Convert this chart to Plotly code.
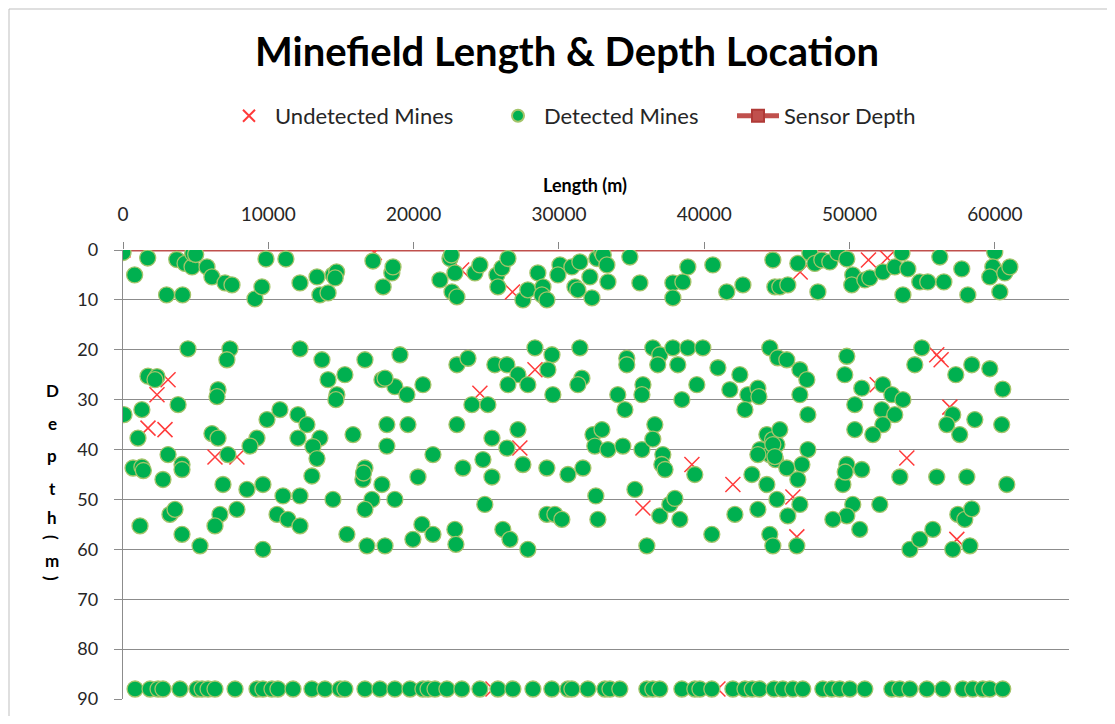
import plotly.graph_objects as go

# ---------------- data (length m, depth m) ----------------
detected_shallow = [
    (0, 0.5), (800, 5), (1700, 1.6), (3000, 9), (4100, 9), (3700, 1.9), (4270, 2.7), (4750, 3.4),
    (4800, 0.7), (5000, 0.9), (5780, 3.4), (6120, 5.4), (7020, 6.6), (7500, 7), (9080, 9.8),
    (9560, 7.4), (9840, 1.8), (11210, 1.8), (12180, 6.6), (13350, 5.4), (13550, 9), (14110, 8.6),
    (14450, 5), (14700, 4.4), (14600, 5.6), (17200, 2.2), (17900, 7.4), (18500, 4.6), (18580, 3.4),
    (22500, 1.7), (22600, 1.0), (21810, 6), (22840, 4.6), (22640, 8.4), (22980, 9.4), (24220, 4.6),
    (24560, 3), (25730, 5), (26080, 3.6), (26490, 1.7), (25800, 7.4), (27520, 10), (27860, 8),
    (28550, 4.6), (28900, 7.4), (28830, 9), (29170, 10), (30070, 3), (29930, 5), (30890, 3.4),
    (31440, 2.4), (31100, 7.4), (31300, 8), (32130, 5.4), (32270, 9.6), (32610, 1.7), (32960, 0.4),
    (33050, 1.0), (33300, 3), (33370, 6.4), (34880, 1.4), (35570, 6.6), (37840, 6.6), (38530, 6.4),
    (38870, 3.4), (37840, 9.6), (40590, 3), (41550, 8.4), (42660, 7), (44720, 2), (44860, 7.4),
    (45200, 7.4), (45750, 7), (46440, 2.7), (47270, 0.6), (47610, 2.7), (48090, 2), (48640, 2.4),
    (49190, 0.6), (49810, 1.8), (47820, 8.4), (50220, 5), (50150, 7), (51050, 6), (51390, 5.6),
    (52290, 4.4), (53110, 3.4), (53600, 0.6), (54010, 3.8), (53670, 9), (54830, 6.4), (55380, 6.4),
    (56210, 1.4), (56490, 6.4), (57720, 3.8), (58140, 9), (59990, 0.4), (59860, 3.4), (59650, 5.4),
    (60680, 4.6), (61030, 3.4), (60340, 8.4),
]

detected_mid = [
    (4470, 19.8), (7360, 19.8), (7150, 22), (12180, 19.8), (13690, 22), (14110, 26), (15270, 25),
    (14720, 29), (14650, 30), (16650, 22), (17820, 26), (18710, 27.4), (1720, 25.3), (2340, 25.4),
    (2200, 26), (70, 33), (1300, 32), (3790, 31), (1030, 37.7), (6540, 28), (6470, 29.4),
    (10800, 32), (12040, 33), (12660, 35), (9910, 34), (6120, 36.8), (6540, 37.7), (9220, 37.7),
    (8740, 39.3), (7220, 41), (12040, 37.7), (13550, 37.7), (13070, 39.4), (13350, 41.8),
    (15830, 37), (18160, 35), (18160, 39.3), (3100, 41), (4060, 43), (690, 43.7), (1300, 43.5),
    (1400, 44.2), (16650, 43.7),
    (2750, 46), (4060, 44), (6880, 47), (8530, 48), (9630, 47), (11010, 49.3), (12180, 49.3),
    (13000, 45.3), (14450, 50), (16510, 46), (16550, 44.7), (17820, 47), (17130, 50), (16650, 52),
    (18710, 50), (1170, 55.3), (3230, 53), (3580, 52), (4060, 57), (5300, 59.3), (6670, 53),
    (6330, 55.3), (7840, 52), (9630, 60), (10600, 53), (11350, 54), (12180, 55.3), (15410, 57),
    (16790, 59.3), (18030, 59.3),
    (19060, 21), (18030, 25.7), (19540, 29), (20640, 27), (22980, 23), (23740, 21.7), (25590, 23),
    (26420, 23), (27180, 25), (26490, 27), (27860, 27), (28350, 19.6), (29520, 21), (29240, 24),
    (31440, 19.6), (31580, 25.7), (31300, 27), (29580, 29), (24010, 31), (25110, 31), (19610, 35),
    (22980, 35), (21330, 41), (25390, 37.7), (27180, 36), (26420, 39.7), (24770, 42),
    (23390, 43.7), (27520, 43), (29170, 43.7), (30620, 45), (31650, 43.7), (20300, 45.5),
    (25390, 45.5),
    (34670, 21.7), (34670, 23), (36460, 19.6), (36940, 21), (36800, 23), (37840, 19.6),
    (38870, 19.6), (39900, 19.6), (38180, 23), (39490, 27), (35780, 27), (35710, 29), (34050, 29),
    (34540, 32), (38460, 30), (40940, 23.6), (42450, 25), (41760, 28), (43000, 29), (43690, 27.7),
    (43760, 29.4), (42800, 32), (44510, 19.6), (45060, 21.6), (32340, 37), (32960, 36),
    (32470, 39.3), (33370, 40), (34400, 39.3), (35710, 40), (36600, 35), (36460, 37.9), (37150, 41),
    (37080, 43), (37300, 44), (39350, 45), (43280, 45), (44310, 37), (43830, 40), (44700, 38),
    (45000, 39), (44500, 41), (44900, 42),
    (45680, 22), (46580, 24), (47060, 26), (46580, 29), (47130, 33), (49810, 21.3), (49670, 25),
    (50840, 27.7), (52290, 27), (52910, 29), (53670, 30), (50360, 31), (52220, 32), (53110, 33),
    (52290, 35), (50360, 36), (51600, 37), (54970, 19.6), (54490, 23), (57310, 25), (58410, 23),
    (59650, 23.8), (60540, 27.9), (57100, 33), (56690, 35), (57580, 37), (58620, 34), (60470, 35),
    (45200, 36), (44720, 39), (43690, 41), (44860, 41.4), (47130, 40), (46720, 43), (45680, 43.7),
    (49810, 43), (50840, 44), (53460, 45.5), (56000, 45.5), (58070, 45.5), (60820, 47),
    (44310, 47), (46440, 46), (45000, 50), (43690, 52), (45750, 53.3), (46580, 51), (44510, 57),
    (44720, 59.3), (46370, 59.3), (49540, 47), (49700, 44.5), (50220, 51), (49810, 53.3),
    (48850, 54), (50700, 56), (52080, 51), (54150, 60), (54830, 58), (55730, 56), (57450, 53),
    (57930, 54), (58410, 51.9), (57100, 60), (58280, 59.3),
    (24900, 51), (20570, 55), (19950, 58), (21330, 57), (22840, 56), (22910, 59), (26140, 56),
    (26630, 58), (27860, 60), (29170, 53), (29720, 53), (30200, 54), (32540, 49.3), (32680, 54),
    (35230, 48), (36050, 59.3), (36940, 53.3), (37630, 51), (37980, 49.8), (38320, 54),
    (40520, 57), (42110, 53),
]

detected_deep = [
    (830, 88), (1860, 88), (2410, 88), (2750, 88), (3920, 88), (5090, 88), (5440, 88), (5850, 88),
    (6330, 88), (7710, 88), (9220, 88), (9630, 88), (10250, 88), (10660, 88), (11700, 88),
    (13000, 88), (13900, 88), (14930, 88), (15270, 88), (16650, 88), (17680, 88), (18710, 88),
    (19750, 88), (20640, 88), (20990, 88), (21470, 88), (22290, 88), (23320, 88), (24560, 88),
    (25800, 88), (26830, 88), (28210, 88), (29510, 88), (30620, 88), (30890, 88), (31990, 88),
    (33160, 88), (33510, 88), (34190, 88), (36050, 88), (36460, 88), (36940, 88), (38460, 88),
    (39350, 88), (39700, 88), (40520, 88), (41970, 88), (42800, 88), (43300, 88), (43800, 88),
    (44800, 88), (45410, 88), (46100, 88), (46780, 88), (48160, 88), (48780, 88), (49330, 88),
    (50020, 88), (51050, 88), (52910, 88), (53460, 88), (54150, 88), (55320, 88), (56420, 88),
    (57790, 88), (58480, 88), (59170, 88), (59650, 88), (60540, 88),
]

undetected = [
    (0, 0), (17300, 0.5), (23300, 4), (26800, 8.4), (46600, 4.4), (51300, 2), (52600, 1.6),
    (3100, 26), (2340, 29), (1720, 35.7), (2890, 36), (6330, 41.5), (7840, 41.5),
    (24560, 28.7), (28350, 24), (27310, 39.7), (39150, 43), (41970, 47), (35780, 51.7),
    (51900, 27), (56000, 21), (56300, 22), (56900, 31.5), (53940, 41.7), (46100, 49.5),
    (46370, 57.5), (57380, 58), (25460, 88), (40940, 88),
]

sensor_length = [0, 60000]
sensor_depth = [0, 0]

x_ticks = [0, 10000, 20000, 30000, 40000, 50000, 60000]
y_ticks = [0, 10, 20, 30, 40, 50, 60, 70, 80, 90]

det_all = detected_shallow + detected_mid + detected_deep
det_x = [p[0] for p in det_all]
det_y = [p[1] for p in det_all]
und_x = [p[0] for p in undetected]
und_y = [p[1] for p in undetected]

FONT = "Lato"
TXT = "#262626"

# layout geometry (screen pixels; page body adds an 8px offset)
OFF = 8
PL, PT, PW, PH = 123, 250, 946, 449          # plot area on screen
W, H = 1099, 708


def px(sx):   # screen x -> paper x
    return (sx - PL) / PW


def py(sy):   # screen y -> paper y
    return (PT + PH - sy) / PH


fig = go.Figure()
fig.add_trace(go.Scatter(
    x=sensor_length, y=sensor_depth, name="Sensor Depth", mode="lines+markers",
    line=dict(color="#C0504D", width=3),
    marker=dict(symbol="square", size=13, color="#C0504D", line=dict(color="#B03A37", width=1)),
    legend="legend3",
))
fig.add_trace(go.Scatter(
    x=und_x, y=und_y, name="Undetected Mines", mode="markers",
    marker=dict(symbol="x-thin", size=15, line=dict(color="#FF3B3B", width=1.5)),
    legend="legend",
))
fig.add_trace(go.Scatter(
    x=det_x, y=det_y, name="Detected Mines", mode="markers",
    marker=dict(symbol="circle", size=16, color="#00B050", line=dict(color="#A4C46A", width=1.3)),
    legend="legend2",
))

# stacked vertical y-axis title
letters = ["D", "e", "p", "t", "h", "(", "m", ")"]
letter_sy = [390, 423, 455, 488, 517, 537, 560, 578]
for ch, sy in zip(letters, letter_sy):
    fig.add_annotation(
        text=f"<b>{ch}</b>", xref="paper", yref="paper",
        x=px(52), y=py(sy), showarrow=False,
        xanchor="center", yanchor="middle",
        textangle=90 if ch in "()" else 0,
        font=dict(family=FONT, size=17, color="black"),
    )

# x-axis title
fig.add_annotation(
    text="<b>Length (m)</b>", xref="paper", yref="paper",
    x=px(585), y=py(185), showarrow=False, xanchor="center", yanchor="middle",
    font=dict(family=FONT, size=18, color="black"),
)

fig.add_shape(
    type="rect", xref="paper", yref="paper",
    x0=px(9), x1=1.2, y0=-0.2, y1=py(9),
    line=dict(color="#BFBFBF", width=1), fillcolor="rgba(0,0,0,0)", layer="below",
)

leg_common = dict(orientation="h", xanchor="left", yanchor="middle", y=py(116),
                  font=dict(family=FONT, size=22, color=TXT), bgcolor="rgba(0,0,0,0)",
                  itemsizing="constant", itemwidth=42)

fig.update_layout(
    width=W, height=H,
    margin=dict(l=PL - OFF, r=W - (PL - OFF) - PW, t=PT - OFF, b=H - (PT - OFF) - PH,
                autoexpand=False),
    paper_bgcolor="white", plot_bgcolor="white",
    font=dict(family=FONT, color=TXT),
    title=dict(
        text="<b>Minefield Length & Depth Location</b>",
        x=(567 - OFF) / W, xref="container", xanchor="center",
        y=1 - (52 - OFF) / H, yref="container", yanchor="middle",
        font=dict(family=FONT, size=40, color="black"),
    ),
    legend=dict(x=px(247 - 24), **leg_common),
    legend2=dict(x=px(516 - 24), **leg_common),
    legend3=dict(x=px(756 - 24), **leg_common),
    showlegend=True,
)

fig.update_xaxes(
    side="top", range=[0, 65100], tickvals=x_ticks, ticktext=[str(v) for v in x_ticks],
    showgrid=False, zeroline=False, automargin=False,
    showline=False, ticks="outside", ticklen=7, tickcolor="#868686", tickwidth=1.3,
    tickfont=dict(family=FONT, size=19, color=TXT), ticklabelstandoff=13,
)
fig.update_yaxes(
    range=[90, 0], tickvals=y_ticks, ticktext=[str(v) for v in y_ticks],
    showgrid=True, gridcolor="#8C8C8C", gridwidth=1.3, zeroline=False, automargin=False,
    showline=True, linecolor="#8C8C8C", linewidth=1.3,
    ticks="outside", ticklen=8, tickcolor="#8C8C8C", tickwidth=1.3,
    tickfont=dict(family=FONT, size=18, color=TXT), ticklabelstandoff=12,
)

fig.write_html("out.html")
